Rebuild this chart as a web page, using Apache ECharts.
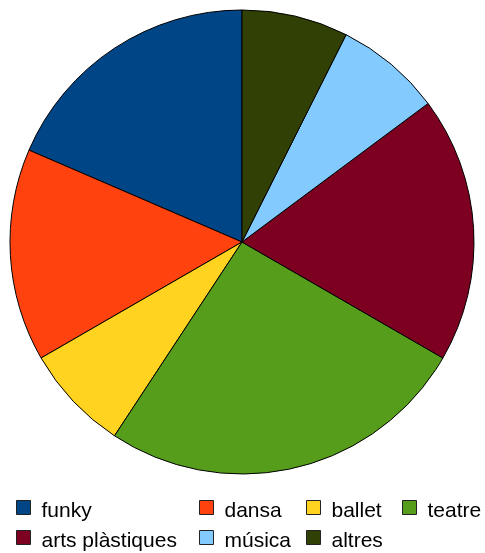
<!DOCTYPE html>
<html>
<head>
<meta charset="utf-8">
<script src="https://cdn.jsdelivr.net/npm/echarts@6/dist/echarts.min.js"></script>
<style>
html,body{margin:0;padding:0;background:#fff;}
#c{width:485px;height:553px;}
</style>
</head>
<body>
<div id="c"></div>
<script>
const categories = ['funky', 'dansa', 'ballet', 'teatre', 'arts plàstiques', 'música', 'altres'];
const values = [5, 4, 2, 7, 5, 2, 2];
const colors = ['#004586', '#ff420e', '#ffd320', '#579d1c', '#7e0021', '#83caff', '#314004'];

const legendPos = [
  [16, 500], [199, 500], [306, 500], [402, 500],
  [16, 530], [199, 530], [306, 530]
];

const chart = echarts.init(document.getElementById('c'), null, {renderer: 'canvas'});
const legends = categories.map((name, i) => ({
  data: [name],
  left: legendPos[i][0],
  top: legendPos[i][1],
  padding: 0,
  icon: 'path://M0,0L14,0L14,14L0,14ZM0,22',
  itemWidth: 14,
  itemHeight: 22,
  itemGap: 0,
  itemStyle: {borderColor: '#222', borderWidth: 1},
  textStyle: {fontFamily: 'Liberation Sans', fontSize: 21, color: '#000', lineHeight: 21, padding: [0, 0, 0, 6]},
  selectedMode: false
}));

chart.setOption({
  animation: false,
  color: colors,
  legend: legends,
  series: [{
    type: 'pie',
    center: [242, 242],
    radius: [0, 232],
    startAngle: 90,
    clockwise: false,
    label: {show: false},
    labelLine: {show: false},
    emphasis: {disabled: true},
    itemStyle: {borderColor: '#000', borderWidth: 1},
    data: categories.map((name, i) => ({name: name, value: values[i]}))
  }]
});
</script>
</body>
</html>
